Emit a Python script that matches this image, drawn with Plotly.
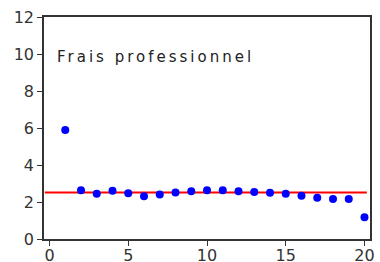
import plotly.graph_objects as go

obs = list(range(1, 21))
values = [5.89, 2.63, 2.45, 2.61, 2.47, 2.31, 2.40, 2.52, 2.58, 2.63,
          2.63, 2.58, 2.54, 2.50, 2.45, 2.34, 2.23, 2.16, 2.16, 1.17]
ref_level = 2.51
ref_x = [-0.3, 20.15]
title_text = "Frais professionnel"
x_ticks = [0, 5, 10, 15, 20]
y_ticks = [0, 2, 4, 6, 8, 10, 12]

fig = go.Figure()
fig.add_trace(go.Scatter(x=ref_x, y=[ref_level, ref_level], mode="lines",
                         line=dict(color="#ff0000", width=2), hoverinfo="skip"))
fig.add_trace(go.Scatter(x=obs, y=values, mode="markers",
                         marker=dict(color="#0000ff", size=8, line=dict(width=0))))

fig.add_annotation(text='<span style="letter-spacing:3px">' + title_text + '</span>',
                   x=0.035, y=0.82, xref="paper", yref="paper",
                   xanchor="left", yanchor="middle", showarrow=False,
                   font=dict(family="DejaVu Sans", size=15, color="#222222"))

axis_common = dict(showgrid=False, zeroline=False, showline=True, linecolor="#333333",
                   linewidth=1.5, mirror=True, ticks="outside", ticklen=5,
                   tickcolor="#333333", tickwidth=1, automargin=False,
                   ticklabeloverflow="allow",
                   tickfont=dict(family="DejaVu Sans", size=16, color="#333333"))

fig.update_xaxes(range=[-0.35, 20.35], tickvals=x_ticks, ticklabelstandoff=-4, **axis_common)
fig.update_yaxes(range=[0, 12], tickvals=y_ticks, **axis_common)

fig.update_layout(width=380, height=262, margin=dict(l=44, r=10, t=17, b=23),
                  plot_bgcolor="white", paper_bgcolor="white", showlegend=False)

fig.write_html("out.html", config={"displayModeBar": False},
               post_script="document.body.style.margin='0';document.body.style.overflow='hidden';")
